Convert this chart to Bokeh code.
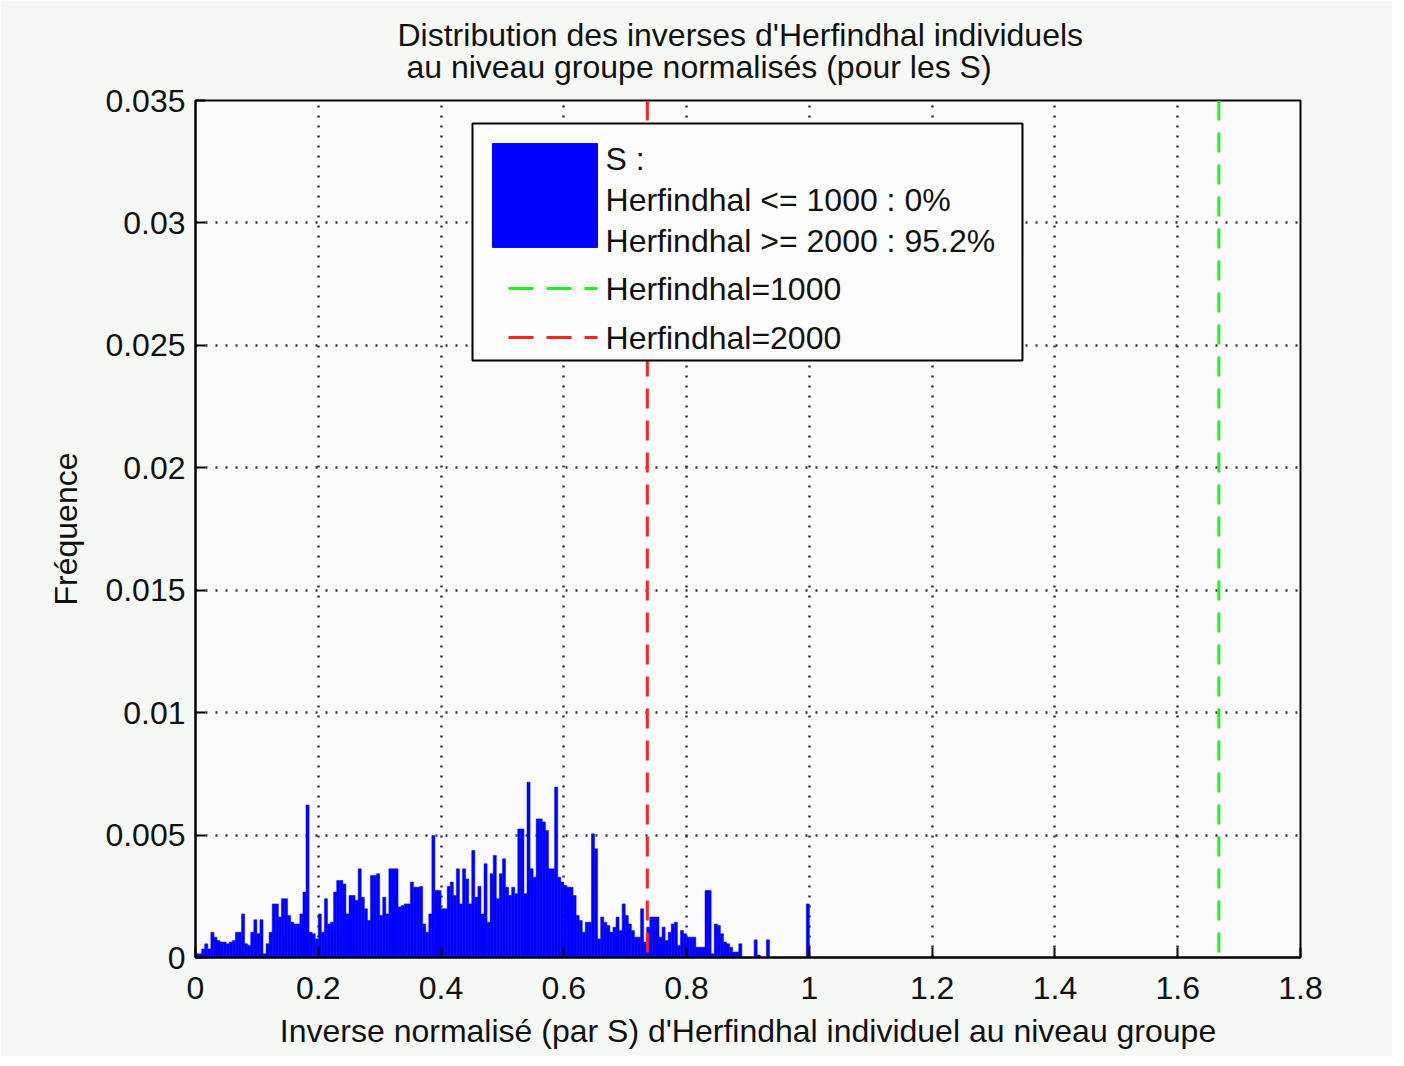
from bokeh.plotting import figure
from bokeh.models import (Span, BoxAnnotation, Label, Title, FixedTicker,
                          Arrow, Range1d, ColumnDataSource)
from bokeh.embed import file_html
from bokeh.resources import INLINE

FONT = "Liberation Sans"

title_line1 = "Distribution des inverses d'Herfindhal individuels"
title_line2 = "au niveau groupe normalisés (pour les S)"
x_label = "Inverse normalisé (par S) d'Herfindhal individuel au niveau groupe"
y_label = "Fréquence"

# histogram: bins of width 0.005 starting at 0
bin_width = 0.005
frequency = [
    1.5e-4, 1.5e-4, 3.5e-4, 5.6e-4, 3.5e-4, 10.3e-4, 8.3e-4, 6.9e-4, 6.3e-4, 6.3e-4,
    5.6e-4, 6.3e-4, 6.9e-4, 10.3e-4, 10.3e-4, 17.8e-4, 5.6e-4, 4.9e-4, 10.3e-4, 15.4e-4,
    9.7e-4, 15.4e-4, 1.5e-4, 5.6e-4, 10.3e-4, 21.9e-4, 21.9e-4, 16.5e-4, 24.0e-4, 24.0e-4,
    17.2e-4, 14.4e-4, 13.7e-4, 13.7e-4, 17.8e-4, 26.7e-4, 62.3e-4, 10.3e-4, 9.7e-4, 7.6e-4,
    17.8e-4, 10.3e-4, 24.0e-4, 13.7e-4, 14.4e-4, 26.7e-4, 31.4e-4, 31.4e-4, 30.0e-4, 17.8e-4,
    25.3e-4, 25.3e-4, 23.3e-4, 36.2e-4, 24.6e-4, 19.9e-4, 15.1e-4, 33.5e-4, 33.5e-4, 34.2e-4,
    17.2e-4, 24.6e-4, 17.8e-4, 36.2e-4, 36.2e-4, 36.2e-4, 20.6e-4, 21.2e-4, 21.9e-4, 21.9e-4,
    30.8e-4, 28.7e-4, 28.7e-4, 29.0e-4, 13.7e-4, 10.3e-4, 17.8e-4, 49.8e-4, 27.4e-4, 27.4e-4,
    19.9e-4, 19.9e-4, 29.0e-4, 30.8e-4, 25.3e-4, 36.2e-4, 21.9e-4, 36.2e-4, 32.1e-4, 21.9e-4,
    43.7e-4, 24.6e-4, 29.0e-4, 17.8e-4, 38.3e-4, 14.4e-4, 34.2e-4, 41.7e-4, 24.0e-4, 34.2e-4,
    40.3e-4, 28.7e-4, 25.3e-4, 28.7e-4, 26.0e-4, 52.5e-4, 52.5e-4, 26.0e-4, 71.6e-4, 36.2e-4,
    32.8e-4, 56.6e-4, 56.6e-4, 55.3e-4, 51.9e-4, 36.2e-4, 36.2e-4, 69.6e-4, 32.8e-4, 30.8e-4,
    29.4e-4, 28.7e-4, 28.7e-4, 25.3e-4, 17.2e-4, 15.1e-4, 10.3e-4, 14.4e-4, 14.4e-4, 50.5e-4,
    44.4e-4, 7.6e-4, 16.5e-4, 14.4e-4, 13.1e-4, 10.3e-4, 12.4e-4, 16.5e-4, 11.0e-4, 21.9e-4,
    17.2e-4, 13.7e-4, 11.0e-4, 8.3e-4, 8.3e-4, 19.9e-4, 6.3e-4, 12.4e-4, 16.5e-4, 16.5e-4,
    16.5e-4, 8.3e-4, 12.4e-4, 6.9e-4, 10.3e-4, 13.7e-4, 14.4e-4, 4.9e-4, 11.0e-4, 9.7e-4,
    8.3e-4, 8.3e-4, 8.3e-4, 4.2e-4, 4.2e-4, 4.2e-4, 27.4e-4, 27.4e-4, 1.5e-4, 13.7e-4,
    13.1e-4, 9.7e-4, 6.3e-4, 5.6e-4, 4.2e-4, 2.2e-4, 2.2e-4, 5.6e-4, 0.0, 0.0,
    0.0, 0.0, 7.2e-4, 1.0e-4, 0.0, 0.0, 7.2e-4, 0.0, 0.0, 0.0,
    0.0, 0.0, 0.0, 0.0, 0.0, 0.0, 0.0, 0.0, 0.0, 21.9e-4,
]

x_ticks = [0, 0.2, 0.4, 0.6, 0.8, 1, 1.2, 1.4, 1.6, 1.8]
x_tick_labels = ["0", "0.2", "0.4", "0.6", "0.8", "1", "1.2", "1.4", "1.6", "1.8"]
y_ticks = [0, 0.005, 0.01, 0.015, 0.02, 0.025, 0.03, 0.035]
y_tick_labels = ["0", "0.005", "0.01", "0.015", "0.02", "0.025", "0.03", "0.035"]

herf_1000_x = 1.667
herf_2000_x = 0.736

legend_hist_lines = ["S :", "Herfindhal <= 1000 : 0%", "Herfindhal >= 2000 : 95.2%"]
legend_1000 = "Herfindhal=1000"
legend_2000 = "Herfindhal=2000"

BLUE = "#0000ff"
GREEN = "#22ee22"
RED = "#ff2222"

left = [i * bin_width for i in range(len(frequency))]
right = [l + bin_width for l in left]
src = ColumnDataSource(dict(left=left, right=right, top=frequency))

p = figure(width=1392, height=1056, title=None,
           x_range=Range1d(0, 1.8), y_range=Range1d(0, 0.035),
           output_backend="svg", toolbar_location=None,
           min_border_left=195, min_border_right=92, min_border_top=100, min_border_bottom=99,
           background_fill_color="#fbfcfb", border_fill_color="#f6f8f6")

p.quad(left="left", right="right", top="top", bottom=0, source=src,
       fill_color=BLUE, line_color=BLUE, line_width=0.5)

# grid
p.grid.grid_line_color = "#333333"
p.grid.grid_line_dash = "2 8"
p.grid.grid_line_width = 2.5
p.outline_line_color = "black"
p.outline_line_width = 2

p.xaxis.ticker = FixedTicker(ticks=x_ticks)
p.yaxis.ticker = FixedTicker(ticks=y_ticks)
p.xaxis.major_label_overrides = dict(zip(x_ticks, x_tick_labels))
p.yaxis.major_label_overrides = dict(zip(y_ticks, y_tick_labels))
p.xaxis.axis_label = x_label
p.yaxis.axis_label = y_label

for ax in (p.xaxis[0], p.yaxis[0]):
    ax.major_tick_in = 10
    ax.major_tick_out = 0
    ax.minor_tick_line_color = None
    ax.axis_line_width = 2
    ax.major_tick_line_width = 2
    ax.major_label_text_font = FONT
    ax.major_label_text_font_size = "32px"
    ax.major_label_text_color = "#111111"
    ax.axis_label_text_font = FONT
    ax.axis_label_text_font_size = "32px"
    ax.axis_label_text_font_style = "normal"
    ax.axis_label_text_color = "#111111"
p.xaxis.major_label_standoff = 19
p.xaxis.axis_label_standoff = 11
p.yaxis.major_label_standoff = 10
p.yaxis.axis_label_standoff = 18

# two-line title, second line indented by one space as in the original
title = Title(text=title_line1 + "\n\u00a0" + title_line2, align="left", offset=202,
              text_font=FONT, text_font_size="32px", text_line_height=0.9,
              text_font_style="normal", text_color="#111111", standoff=30)
p.add_layout(title, "above")

# threshold lines
p.add_layout(Span(location=herf_2000_x, dimension="height", line_color=RED,
                  line_dash="20 12", line_width=3))
p.add_layout(Span(location=herf_1000_x, dimension="height", line_color=GREEN,
                  line_dash="20 12", line_width=3))

# legend (drawn as annotations)
p.add_layout(BoxAnnotation(left=0.4512, right=1.3471, bottom=0.02438, top=0.03406,
                           fill_color="#fcfdfc", fill_alpha=1.0,
                           line_color="black", line_alpha=1.0, line_width=2))
p.add_layout(BoxAnnotation(left=0.4838, right=0.6548, bottom=0.0290, top=0.03324,
                           fill_color=BLUE, fill_alpha=1.0,
                           line_color=BLUE, line_alpha=1.0, line_width=1))
legend_text_x = 0.6679
for txt, yy in zip(legend_hist_lines, [0.03263, 0.03092, 0.02928]):
    p.add_layout(Label(x=legend_text_x, y=yy, text=txt, text_baseline="middle",
                       text_font=FONT, text_font_size="32px", text_color="#111111"))
for txt, yy, col in [(legend_1000, 0.02732, GREEN), (legend_2000, 0.02532, RED)]:
    p.add_layout(Arrow(x_start=0.5099, y_start=yy, x_end=0.6548, y_end=yy, start=None, end=None,
                       line_color=col, line_dash="25 13", line_width=3))
    p.add_layout(Label(x=legend_text_x, y=yy, text=txt, text_baseline="middle",
                       text_font=FONT, text_font_size="32px", text_color="#111111"))

open("out.html", "w").write(file_html(p, INLINE))
